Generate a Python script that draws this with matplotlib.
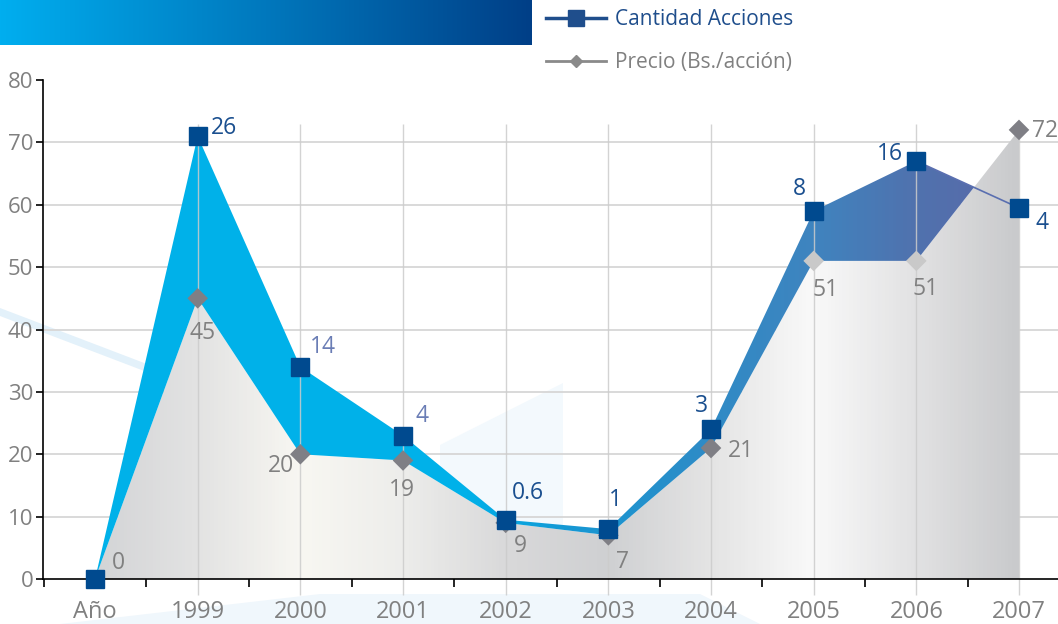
import numpy as np
import matplotlib
matplotlib.use("Agg")
import matplotlib.pyplot as plt
from matplotlib.colors import LinearSegmentedColormap
from matplotlib.lines import Line2D
from matplotlib.path import Path
from matplotlib.patches import Polygon

# datos
categories = ["Año", "1999", "2000", "2001", "2002", "2003", "2004", "2005", "2006", "2007"]
cantidad = [0, 71, 34, 23, 9.5, 8, 24, 59, 67, 59.5]          # altura dibujada
cantidad_labels = ["", "26", "14", "4", "0.6", "1", "3", "8", "16", "4"]
precio = [0, 45, 20, 19, 9, 7, 21, 51, 51, 72]
precio_labels = ["0", "45", "20", "19", "9", "7", "21", "51", "51", "72"]

# desplazamiento de las etiquetas (pixeles)
cant_off = [(0, 0), (26, 8), (23, 20), (19, 20), (22, 27), (7, 29), (-10, 23), (-14, 22), (-26, 7), (23, -15)]
prec_off = [(23, 16), (5, -35), (-19, -12), (-1, -30), (15, -23), (14, -27), (30, -3), (12, -29), (9, -28), (26, -1)]
cant_lcolors = ["#1a4f8f", "#1a4f8f", "#6a7db5", "#6a7db5", "#1a4f8f", "#1a4f8f", "#1a4f8f", "#1a4f8f", "#1a4f8f", "#1a4f8f"]
prec_mcolors = ["#7f7f85"] * 7 + ["#c9c9c9", "#c9c9c9", "#7f7f85"]

plt.rcParams["font.family"] = ["Open Sans", "DejaVu Sans"]

W, H = 1058, 624
fig = plt.figure(figsize=(W / 100, H / 100), dpi=100)

# fondo decorativo + banda superior
bg = fig.add_axes([0, 0, 1, 1], zorder=0)
grad = np.linspace(0, 1, 256).reshape(1, -1)
banner = LinearSegmentedColormap.from_list("banner", ["#00aeef", "#0078bd", "#003f87"])
bg.imshow(grad, cmap=banner, extent=[0, 532, 45, 0], aspect="auto")
bg.add_patch(Polygon([(0, 308), (0, 316), (430, 480), (430, 472)], color="#e3f1fa", lw=0))
bg.add_patch(Polygon([(440, 445), (563, 383), (563, 580), (440, 580)], color="#f3f9fd", lw=0))
bg.add_patch(Polygon([(60, 624), (320, 594), (700, 594), (760, 624)], color="#f0f7fc", lw=0))
bg.set_xlim(0, W)
bg.set_ylim(H, 0)
bg.axis("off")

ax = fig.add_axes([43 / W, 45 / H, 1 - 43 / W, (579 - 80) / H], zorder=1)
ax.set_facecolor("none")
x = np.arange(len(categories))
cant = np.array(cantidad)
prec = np.array(precio)

# area gris bajo el precio
grey_stops = ["#d3d4d6", "#e3e3e3", "#f8f7f2", "#ededeb", "#d9d9da",
              "#cfd0d2", "#e4e4e4", "#f9f9f9", "#e2e2e3", "#c9cacc"]
grey_cmap = LinearSegmentedColormap.from_list("grey", [(i / 9, c) for i, c in enumerate(grey_stops)])
gpoly = ax.fill_between(x, 0, prec, color="none", lw=0)
im = ax.imshow(grad, cmap=grey_cmap, extent=[0, 9, 0, 80], aspect="auto", zorder=1)
im.set_clip_path(Path.make_compound_path(*gpoly.get_paths()), ax.transData)

# area azul entre las dos series
blue_stops = [(0, "#00b1e9"), (3.6 / 9, "#00b1e9"), (4.6 / 9, "#1598d4"), (6 / 9, "#2f8bc6"),
              (7 / 9, "#3f84bf"), (8 / 9, "#5072ae"), (1, "#5a68a8")]
blue_cmap = LinearSegmentedColormap.from_list("blue", blue_stops)
bpoly = ax.fill_between(x, prec, cant, where=cant >= prec, interpolate=True, color="none", lw=0)
im2 = ax.imshow(grad, cmap=blue_cmap, extent=[0, 9, 0, 80], aspect="auto", zorder=2)
im2.set_clip_path(Path.make_compound_path(*bpoly.get_paths()), ax.transData)

ax.plot(x[8:], cant[8:], color="#5a6fb0", lw=1.2, zorder=3)

# rejilla
for v in range(10, 80, 10):
    ax.axhline(v, color="#d9d9d9", lw=1.4, zorder=0.5)
ax.vlines(x[1:], -2.6, 73, color="#cccccc", lw=1, alpha=0.85, zorder=2.5, clip_on=False)

# marcadores
ax.scatter(x[1:], prec[1:], marker="D", s=110, c=prec_mcolors[1:], lw=0, zorder=4)
ax.plot(x, cant, ls="none", marker="s", ms=13, color="#004a8f", zorder=5, clip_on=False)

for i in range(len(x)):
    ax.annotate(precio_labels[i], (x[i], prec[i]), xytext=prec_off[i], textcoords="offset pixels",
                ha="center", va="center", fontsize=16.5, color="#808080", zorder=6)
    if cantidad_labels[i]:
        ax.annotate(cantidad_labels[i], (x[i], cant[i]), xytext=cant_off[i], textcoords="offset pixels",
                    ha="center", va="center", fontsize=16.5, color=cant_lcolors[i], zorder=6)

# ejes
ax.set_xlim(-0.507, 9.38)
ax.set_ylim(0, 80)
ax.set_yticks(range(0, 81, 10))
ax.set_xticks(x)
ax.set_xticklabels(categories)
ax.set_xticks(np.arange(-0.5, 9, 1), minor=True)
ax.tick_params(axis="y", length=5, width=1.2, color="black", labelcolor="#808080", labelsize=16, pad=2)
ax.tick_params(axis="x", which="major", length=0, labelcolor="#808080", labelsize=17, pad=15)
ax.tick_params(axis="x", which="minor", length=6, width=1.2, color="black")
for s in ["top", "right"]:
    ax.spines[s].set_visible(False)
for s in ["left", "bottom"]:
    ax.spines[s].set_linewidth(1.2)
    ax.spines[s].set_color("black")

# leyenda
handles = [Line2D([], [], color="#1f4e8c", lw=2.5, marker="s", ms=11),
           Line2D([], [], color="#8a8a8a", lw=2, marker="D", ms=6)]
fig.legend(handles, ["Cantidad Acciones", "Precio (Bs./acción)"], loc="upper left",
           bbox_to_anchor=(546 / W, 1 - 9 / H), frameon=False, fontsize=15,
           handlelength=2.9, handletextpad=0.4, labelspacing=1.05, borderpad=0, borderaxespad=0,
           labelcolor=["#1f4e8c", "#808080"])

fig.savefig("out.png", dpi=100)
